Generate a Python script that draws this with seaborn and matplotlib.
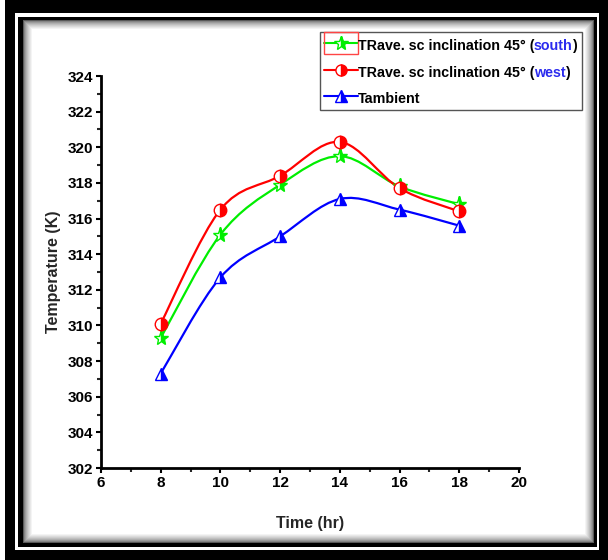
import numpy as np
import pandas as pd
import matplotlib
matplotlib.use("Agg")
import matplotlib.pyplot as plt
import seaborn as sns
from matplotlib.path import Path
from matplotlib.patches import PathPatch, Rectangle
from matplotlib.lines import Line2D
from matplotlib.offsetbox import TextArea, HPacker, VPacker, DrawingArea, AnchoredOffsetbox

# data
time_hr = [8, 10, 12, 14, 16, 18]
t_south = [309.3, 315.1, 317.9, 319.5, 317.8, 316.8]
t_west = [310.1, 316.5, 318.4, 320.3, 317.7, 316.4]
t_ambient = [307.3, 312.7, 315.0, 317.1, 316.5, 315.6]

x_ticks = [6, 8, 10, 12, 14, 16, 18, 20]
y_ticks = [302, 304, 306, 308, 310, 312, 314, 316, 318, 320, 322, 324]

df = pd.DataFrame({"time": time_hr, "south": t_south, "west": t_west, "ambient": t_ambient})

sns.set_style("ticks")
plt.rcParams["font.family"] = ["Liberation Sans", "DejaVu Sans"]
plt.rcParams["font.weight"] = "bold"

W, H = 608, 560
fig = plt.figure(figsize=(W / 100, H / 100), dpi=100, facecolor="white")


def frect(x0, y0, x1, y1, **kw):
    # rectangle given in image pixels (top-left origin)
    r = Rectangle((x0 / W, 1 - y1 / H), (x1 - x0) / W, (y1 - y0) / H,
                  transform=fig.transFigure, zorder=-10, **kw)
    fig.patches.append(r)


# picture frame: black border, white gap, black line, inner shadow
frect(5, 0, 608, 560, facecolor="black", edgecolor="none")
frect(15, 13, 599, 550, facecolor="white", edgecolor="none")
frect(18, 17, 597, 547, facecolor="black", edgecolor="none")
n = 10
for i in range(n):
    g = 0.35 + 0.65 * (i / (n - 1)) ** 0.6
    frect(23 + i, 20 + i, 594 - i, 543 - i, facecolor=(g, g, g), edgecolor="none")

ax = fig.add_axes([101 / W, 1 - 468 / H, (519 - 101) / W, (468 - 76) / H])
ax.patch.set_alpha(0)

styles = {
    "south": dict(color="#00ee00", marker="*", ms=11),
    "west": dict(color="#ff0000", marker="o", ms=9),
    "ambient": dict(color="#0000ff", marker="^", ms=9),
}


def smooth_path(xs, ys):
    pts = np.column_stack([xs, ys]).astype(float)
    ext = np.vstack([pts[0], pts, pts[-1]])
    verts = [pts[0]]
    codes = [Path.MOVETO]
    for i in range(len(pts) - 1):
        p0, p1, p2, p3 = ext[i], ext[i + 1], ext[i + 2], ext[i + 3]
        verts += [p1 + (p2 - p0) / 6, p2 - (p3 - p1) / 6, p2]
        codes += [Path.CURVE4] * 3
    return Path(verts, codes)


for name in ["ambient", "south", "west"]:
    st = styles[name]
    ax.add_patch(PathPatch(smooth_path(df["time"], df[name]), facecolor="none",
                           edgecolor=st["color"], lw=1.6, zorder=2))
    sns.lineplot(data=df, x="time", y=name, ax=ax, color=st["color"], marker=st["marker"],
                 linestyle="", markersize=st["ms"], fillstyle="right",
                 markerfacecoloralt="white", markeredgecolor=st["color"],
                 markeredgewidth=1.0, legend=False, zorder=3)

ax.set_xlim(6, 20)
ax.set_ylim(302, 324)
ax.set_xticks(x_ticks)
ax.set_yticks(y_ticks)
ax.set_xticks(np.arange(7, 20, 2), minor=True)
ax.set_yticks(np.arange(303, 324, 2), minor=True)
ax.tick_params(which="major", direction="out", length=3.5, width=1.5, pad=2,
               labelsize=11, colors="black")
ax.tick_params(which="minor", direction="out", length=3, width=1.5)
for lab in ax.get_xticklabels() + ax.get_yticklabels():
    lab.set_fontweight("bold")
sns.despine(ax=ax)
for s in ["left", "bottom"]:
    ax.spines[s].set_linewidth(2)
    ax.spines[s].set_color("black")
ax.set_xlabel("Time (hr)", fontsize=11.5, fontweight="bold", labelpad=19)
ax.set_ylabel("Temperature (K)", fontsize=11.5, fontweight="bold", labelpad=5)


# legend with coloured words
def handle(name, boxed=False):
    st = styles[name]
    da = DrawingArea(24, 10, 0, 0)
    da.add_artist(Line2D([0, 24], [5, 5], color=st["color"], lw=1.5))
    da.add_artist(Line2D([12], [5], marker=st["marker"], color=st["color"], ms=st["ms"] - 1,
                         fillstyle="right", markerfacecoloralt="white", mec=st["color"], mew=1))
    if boxed:
        da.add_artist(Rectangle((0, -3), 24, 16, facecolor="none", edgecolor="#ff4444", lw=1))
    return da


tp = dict(fontsize=10.3, fontweight="bold", color="black")
bp = dict(fontsize=10.3, fontweight="bold", color="#2a2aee")


def row(name, parts, boxed=False):
    items = [handle(name, boxed)]
    for txt, props in parts:
        items.append(TextArea(txt, textprops=props))
    return HPacker(children=items, align="baseline", pad=0, sep=0)


rows = [
    row("south", [("TRave. sc inclination 45\u00b0 (", tp), ("south", bp), (")", tp)], boxed=True),
    row("west", [("TRave. sc inclination 45\u00b0 (", tp), ("west", bp), (")", tp)]),
    row("ambient", [("Tambient", tp)]),
]
box = VPacker(children=rows, align="left", pad=0, sep=7)
anch = AnchoredOffsetbox(loc="upper left", child=box, pad=0.3, borderpad=0,
                         bbox_to_anchor=(320 / W, 1 - 32 / H), bbox_transform=fig.transFigure,
                         frameon=True)
anch.patch.set_edgecolor("#555555")
anch.patch.set_linewidth(1)
anch.patch.set_boxstyle("square", pad=0)
ax.add_artist(anch)

fig.savefig("out.png", dpi=100)
